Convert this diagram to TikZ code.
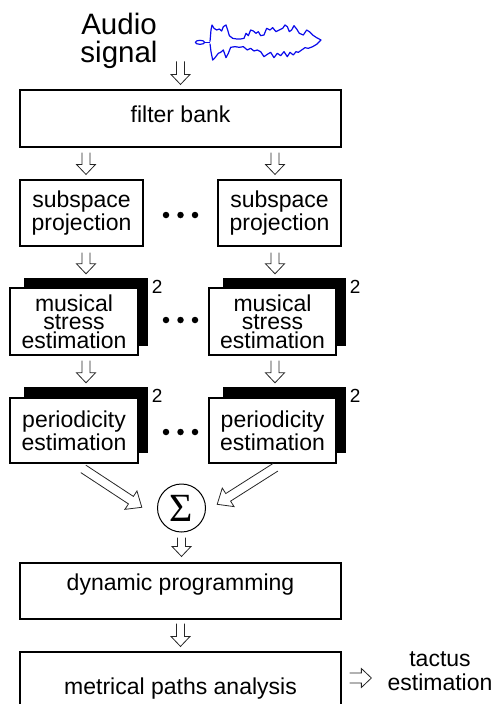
\documentclass[tikz,border=0pt]{standalone}
\usepackage{fontspec}
\setmainfont{Liberation Sans}
\newfontfamily\sigmafnt{Liberation Serif}
\usetikzlibrary{calc}
\definecolor{wave}{RGB}{10,10,235}
\newcommand{\boxfnt}{\fontsize{23}{23.3}\selectfont}
\newcommand{\msfnt}{\fontsize{23}{18.6}\selectfont}
\newcommand{\harrow}[7]{%
  \path ($(#1)!#3!(#2)$) coordinate (hs) ($(#2)!#4!(#1)$) coordinate (he);
  \path ($(he)!#7!(hs)$) coordinate (hb);
  \draw[arrowline] ($(hs)!#5!90:(he)$) -- ($(hb)!#5!90:(he)$) -- ($(hb)!#6!90:(he)$) -- (he)
     -- ($(hb)!#6!-90:(he)$) -- ($(hb)!#5!-90:(he)$) -- ($(hs)!#5!-90:(he)$);
}
\tikzset{
  box/.style={draw, line width=1.1pt, fill=white, inner sep=0pt, align=center, font=\boxfnt},
  shadowbox/.style={fill=black, inner sep=0pt},
  arrowline/.style={line width=0.8pt, black!85, line join=miter},
  dotnode/.style={circle, fill=black, inner sep=0pt, minimum size=6.5pt},
  twolabel/.style={inner sep=0pt, font=\fontsize{19}{19}\selectfont},
}
\begin{document}
\begin{tikzpicture}[x=1pt, y=-1pt]
\useasboundingbox (0,0) rectangle (494,704);
\clip (0,0) rectangle (494,704);

% audio signal label
\node[font=\fontsize{29.5}{28}\selectfont, align=center, inner sep=0pt] (audio) at (119,40.5) {Audio\\signal};

% waveform
\begin{scope}[shift={(190,15)}, x=0.3333pt, y=-0.3333pt, wave, line width=1.2pt, line join=round]
  \draw (30,82) ellipse [x radius=4.7pt, y radius=2pt];
  \draw (44,82) -- (60,82);
  \draw (60,80) -- (63,45) -- (66,30) -- (72,40) -- (80,45) -- (88,42) -- (95,48) -- (100,35)
    -- (108,30) -- (113,45) -- (118,62) -- (128,70) -- (140,72) -- (152,72) -- (162,70) -- (168,55)
    -- (175,62) -- (182,45) -- (190,48) -- (198,55) -- (205,50) -- (212,62) -- (222,60) -- (230,40)
    -- (240,45) -- (248,38) -- (258,50) -- (268,45) -- (278,40) -- (285,30) -- (292,35) -- (298,50)
    -- (305,45) -- (312,32) -- (320,42) -- (328,55) -- (340,60) -- (350,45) -- (358,50) -- (368,60)
    -- (380,68) -- (393,75)
    -- (380,88) -- (368,95) -- (355,100) -- (345,98) -- (335,105) -- (325,112) -- (318,110)
    -- (310,120) -- (300,112) -- (292,125) -- (282,110) -- (272,122) -- (262,115) -- (252,128)
    -- (242,112) -- (232,118) -- (222,125) -- (212,110) -- (202,105) -- (192,108) -- (182,100)
    -- (172,105) -- (160,95) -- (148,97) -- (135,95) -- (122,97) -- (115,115) -- (108,128)
    -- (100,105) -- (92,112) -- (85,115) -- (75,128) -- (68,135) -- (63,110) -- (60,86);
\end{scope}

% boxes
\node[box, minimum width=321pt, minimum height=57pt, text depth=8pt] (fb) at (180.5,118.5) {filter bank};

\node[box, minimum width=123pt, minimum height=66pt] (sp1) at (81.5,213) {subspace\\projection};
\node[box, minimum width=123pt, minimum height=66pt] (sp2) at (279.5,213) {subspace\\projection};

\node[shadowbox, minimum width=124pt, minimum height=68pt] (ms1s) at (86,312) {};
\node[box, minimum width=128pt, minimum height=67pt, font=\msfnt] (ms1) at (74,321.5) {musical\\stress\\estimation};
\node[shadowbox, minimum width=123pt, minimum height=68pt] (ms2s) at (284.5,312) {};
\node[box, minimum width=127pt, minimum height=67pt, font=\msfnt] (ms2) at (272.5,321.5) {musical\\stress\\estimation};

\node[shadowbox, minimum width=124pt, minimum height=66pt] (pe1s) at (86,420) {};
\node[box, minimum width=128pt, minimum height=65pt] (pe1) at (74,430.5) {periodicity\\estimation};
\node[shadowbox, minimum width=123pt, minimum height=66pt] (pe2s) at (284.5,420) {};
\node[box, minimum width=127pt, minimum height=65pt] (pe2) at (272.5,430.5) {periodicity\\estimation};

\node[twolabel] (two1) at ($(ms1s.north east)+(9,9)$) {2};
\node[twolabel] (two2) at ($(ms2s.north east)+(9,9)$) {2};
\node[twolabel] (two3) at ($(pe1s.north east)+(9,9)$) {2};
\node[twolabel] (two4) at ($(pe2s.north east)+(9,9)$) {2};

% dots
\foreach \r/\y in {a/215, b/320, c/432} {
  \node[dotnode] (dot\r1) at (166,\y) {};
  \node[dotnode] (dot\r2) at (180.5,\y) {};
  \node[dotnode] (dot\r3) at (195,\y) {};
}

\node[circle, draw, line width=1pt, minimum size=48pt, inner sep=0pt, font=\sigmafnt\fontsize{40}{40}\selectfont] (sig) at (181.5,508) {Σ};

\node[box, minimum width=321pt, minimum height=56pt, text depth=18.5pt] (dp) at (180.5,591) {dynamic programming};
\node[box, minimum width=321pt, minimum height=68pt, text depth=0.5pt] (mp) at (180.5,686) {metrical paths analysis};

\node[font=\fontsize{23}{24.5}\selectfont, align=center, inner sep=0pt] (tac) at (440,671) {tactus\\estimation};

% connectors
\coordinate (col1) at (86,0);
\coordinate (col2) at (275,0);
\coordinate (ain) at ($(fb.north)+(0,-28)$);
\harrow{ain}{fb.north}{0pt}{5pt}{4pt}{9.5pt}{10pt}
\harrow{col1 |- fb.south}{col1 |- sp1.north}{5pt}{5pt}{4pt}{9.5pt}{10pt}
\harrow{col2 |- fb.south}{col2 |- sp2.north}{5pt}{5pt}{4pt}{9.5pt}{10pt}
\harrow{col1 |- sp1.south}{col1 |- ms1s.north}{6pt}{4pt}{4pt}{9.5pt}{10pt}
\harrow{col2 |- sp2.south}{col2 |- ms2s.north}{6pt}{4pt}{4pt}{9.5pt}{10pt}
\harrow{col1 |- ms1.south}{col1 |- pe1s.north}{5pt}{4pt}{4pt}{9.5pt}{10pt}
\harrow{col2 |- ms2.south}{col2 |- pe2s.north}{5pt}{4pt}{4pt}{9.5pt}{10pt}

\coordinate (d1s) at ($(pe1.south)+(9.3,5.3)$);
\coordinate (d1e) at ($(sig.west)+(-15.2,-0.7)$);
\coordinate (d2s) at ($(pe2.south)+(3,3.7)$);
\coordinate (d2e) at ($(sig.east)+(11.2,-3.7)$);
\harrow{d1s}{d1e}{0pt}{0pt}{4.5pt}{11pt}{13pt}
\harrow{d2s}{d2e}{0pt}{0pt}{4.5pt}{11pt}{13pt}

\harrow{sig.south}{sig.south |- dp.north}{5pt}{6pt}{4pt}{9.5pt}{10pt}
\harrow{dp.south}{dp.south |- mp.north}{4pt}{5pt}{4pt}{9.5pt}{10pt}

\coordinate (mpo) at ($(mp.east)+(0,-8)$);
\harrow{mpo}{tac.west |- mpo}{8pt}{16pt}{5pt}{9.5pt}{10pt}
\end{tikzpicture}
\end{document}
